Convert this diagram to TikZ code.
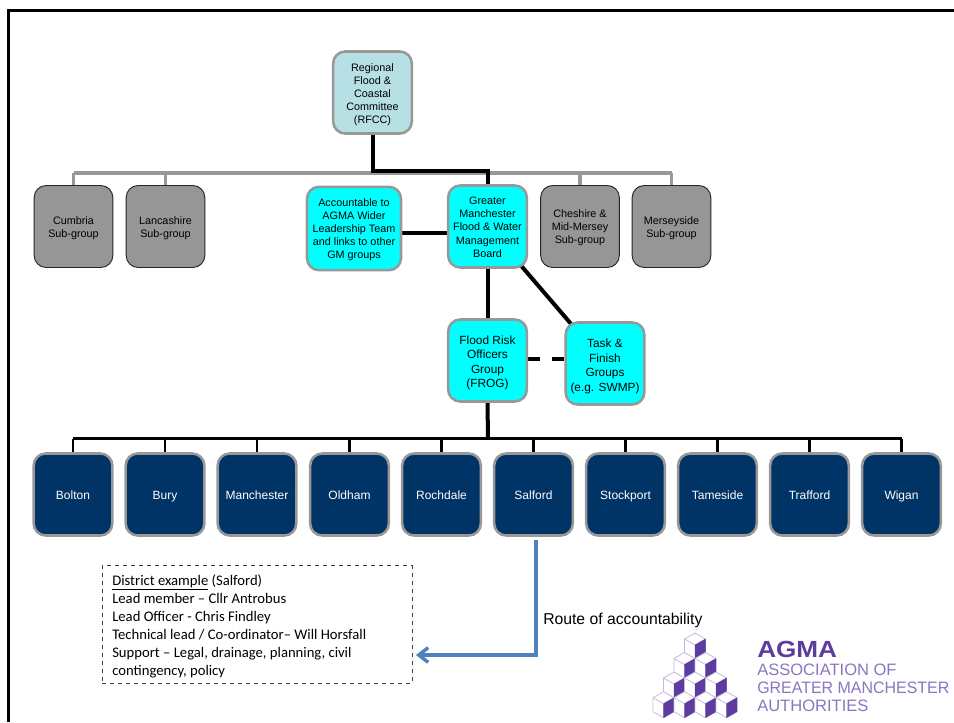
\documentclass[tikz,border=0pt]{standalone}
\usepackage{fontspec}
\usepackage{graphicx}
\setmainfont{Liberation Sans}
\newfontfamily\calibrifont{Carlito}
\usetikzlibrary{arrows.meta,backgrounds}
\definecolor{cyanbox}{HTML}{00FFFF}
\definecolor{paleblue}{HTML}{B7E0E4}
\definecolor{greybox}{HTML}{969696}
\definecolor{edgegrey}{HTML}{989898}
\definecolor{navybox}{HTML}{003366}
\definecolor{routeblue}{HTML}{4F81BD}
\definecolor{agmadark}{HTML}{5C3C9E}
\definecolor{agmalight}{HTML}{8B75BF}
\definecolor{agmaline}{HTML}{C4B9E0}
\newcommand{\nudgetext}[1]{\mbox{}\\[#1]}
\tikzset{
  orgbox/.style={rounded corners=9pt, align=center, inner sep=0pt, minimum width=59pt, minimum height=61.5pt,
    font=\fontsize{8.1}{9.8}\selectfont, text=black},
  cyanorg/.style={orgbox, fill=cyanbox, draw=edgegrey, line width=1.9pt},
  bigcyanorg/.style={cyanorg, font=\fontsize{8.9}{10.8}\selectfont},
  paleorg/.style={orgbox, fill=paleblue, draw=edgegrey, line width=1.9pt},
  greyorg/.style={orgbox, fill=greybox, draw=black!85, line width=0.7pt},
  navyorg/.style={orgbox, fill=navybox, draw=edgegrey, line width=1.9pt, text=white, font=\fontsize{9}{11}\selectfont, execute at begin node={\rule[-2pt]{0pt}{11.5pt}}},
  blackline/.style={draw=black, line width=3pt},
  greyline/.style={draw=edgegrey, line width=2.5pt},
  dropline/.style={draw=black, line width=2pt},
  cubeedge/.style={draw=agmaline, line width=0.6pt, fill=white, line join=round},
  cubeface/.style={fill=agmadark, draw=agmadark, line width=0.2pt},
  cube/.pic={
    \path[cubeedge] (0,-13) -- (10.5,-7) -- (10.5,7) -- (0,13) -- (-10.5,7) -- (-10.5,-7) -- cycle;
    \path[cubeedge, fill=none] (-10.5,-7) -- (0,-1) -- (10.5,-7);
    \path[cubeedge, fill=none] (0,-1) -- (0,13);
    \path[cubeface] (0,-1) -- (10.5,-7) -- (10.5,7) -- (0,13) -- cycle;
  }
}
\begin{document}
\begin{tikzpicture}[x=0.75pt,y=-0.75pt]
\useasboundingbox (0,0) rectangle (954,722);
% outer frame
\coordinate (frameBL) at (8.5,722);
\coordinate (frameTL) at (8.5,10.5);
\coordinate (frameTR) at (954,10.5);
\draw[line width=1.9pt,draw=black] (frameBL) -- (frameTL) -- (frameTR);

% nodes
\node[paleorg] (rfcc) at (372.5,92.5) {\nudgetext{-0.8pt}Regional\\Flood \&\\Coastal\\Committee\\(RFCC)};
\node[greyorg] (cumbria) at (73.5,226.5) {\nudgetext{-0.8pt}Cumbria\\Sub-group};
\node[greyorg] (lancs) at (165.5,226.5) {\nudgetext{-0.8pt}Lancashire\\Sub-group};
\node[cyanorg, minimum width=70.5pt, minimum height=62.5pt] (agmaw) at (354,228.5) {\nudgetext{-2.3pt}Accountable to\\AGMA Wider\\Leadership Team\\and links to other\\GM groups};
\node[cyanorg] (board) at (487.5,226.5) {\nudgetext{-3pt}Greater\\Manchester\\Flood \& Water\\Management\\Board};
\node[greyorg] (cheshire) at (580,226.5) {\nudgetext{-1.5pt}Cheshire \&\\Mid-Mersey\\Sub-group};
\node[greyorg] (mersey) at (671.5,226.5) {\nudgetext{-0.8pt}Merseyside\\Sub-group};
\node[bigcyanorg] (frog) at (487.5,360.5) {\nudgetext{-0.65pt}Flood Risk\\Officers\\Group\\(FROG)};
\node[bigcyanorg] (task) at (605,363.5) {\nudgetext{0.1pt}Task \&\\Finish\\Groups\\(e.g. SWMP)};
\node[navyorg] (bolton) at (73,494.5) {Bolton};
\node[navyorg] (bury) at (165,494.5) {Bury};
\node[navyorg] (manchester) at (257,494.5) {Manchester};
\node[navyorg] (oldham) at (349.5,494.5) {Oldham};
\node[navyorg] (rochdale) at (441.5,494.5) {Rochdale};
\node[navyorg] (salford) at (533.5,494.5) {Salford};
\node[navyorg] (stockport) at (625.5,494.5) {Stockport};
\node[navyorg] (tameside) at (717.5,494.5) {Tameside};
\node[navyorg] (trafford) at (809.5,494.5) {Trafford};
\node[navyorg] (wigan) at (901.5,494.5) {Wigan};

\begin{scope}[on background layer]
\coordinate (greybus) at (372,173);
\draw[greyline] (cumbria.north |- greybus) -- (mersey.north |- greybus);
\foreach \n in {cumbria,lancs,cheshire,mersey}{
  \draw[greyline] (\n.north |- greybus) -- (\n.north);
}
\draw[blackline, line join=miter] (rfcc.south) |- (board.north |- 0,171) -- (board.north);
\draw[blackline] (agmaw.east |- 0,233) -- (board.west |- 0,233);
\draw[blackline] (board) -- (frog);
\draw[blackline] (board.center) -- (task.center);
\draw[blackline, dash pattern=on 9pt off 9pt] (frog.east |- 0,359) -- (task.west |- 0,359);
\coordinate (blackbus) at (488,438.5);
\draw[blackline] (frog.south) -- (blackbus);
\draw[draw=black, line width=2.6pt] (bolton.north |- blackbus) -- (wigan.north |- blackbus);
\foreach \n in {bolton,bury,manchester,oldham,rochdale,salford,stockport,tameside,trafford,wigan}{
  \draw[dropline] (\n.north |- blackbus) -- (\n.north);
}
\end{scope}

% district box
\node[draw=black!75, dashed, line width=0.6pt, minimum width=232.5pt, minimum height=88pt, inner sep=0pt] (district) at (257,624.5) {};
\node[anchor=north west, align=left, inner sep=0pt, font=\calibrifont\fontsize{11}{13.45}\selectfont] (districttext) at (112,574.5) {\underline{District example} (Salford)\\Lead member – Cllr Antrobus\\Lead Officer - Chris Findley\\Technical lead / Co-ordinator– Will Horsfall\\Support – Legal, drainage, planning, civil\\contingency, policy};

% route
\coordinate (routeTop) at (536,540);
\coordinate (routeEnd) at (416,655);
\draw[draw=routeblue, line width=2.6pt, -{Straight Barb[length=7pt,width=11pt]}] (routeTop) |- (routeEnd);
\node[anchor=base west, inner sep=0pt, font=\fontsize{11.8}{14}\selectfont] (routelabel) at (543,624) {Route of accountability};

% logo cubes
\foreach \cx/\cy in {695/646,
  684.5/665.5, 705.5/665.5,
  674/685, 695/685, 716/685,
  663.5/704.7, 684.5/704.7, 705.5/704.7, 726.5/704.7}{
  \pic at (\cx,\cy) {cube};
}
\node[anchor=base west, inner sep=0pt, text=agmadark, font=\bfseries\fontsize{17.5}{20}\selectfont] (agmalogo) at (757,657) {\scalebox{1.12}[1]{AGMA}};
\node[anchor=base west, inner sep=0pt, text=agmalight, font=\fontsize{12.4}{14}\selectfont] (agma1) at (757,675) {ASSOCIATION OF};
\node[anchor=base west, inner sep=0pt, text=agmalight, font=\fontsize{12.4}{14}\selectfont] (agma2) at (757,693) {\scalebox{0.965}[1]{GREATER MANCHESTER}};
\node[anchor=base west, inner sep=0pt, text=agmalight, font=\fontsize{12.4}{14}\selectfont] (agma3) at (757,711) {AUTHORITIES};
\end{tikzpicture}
\end{document}
